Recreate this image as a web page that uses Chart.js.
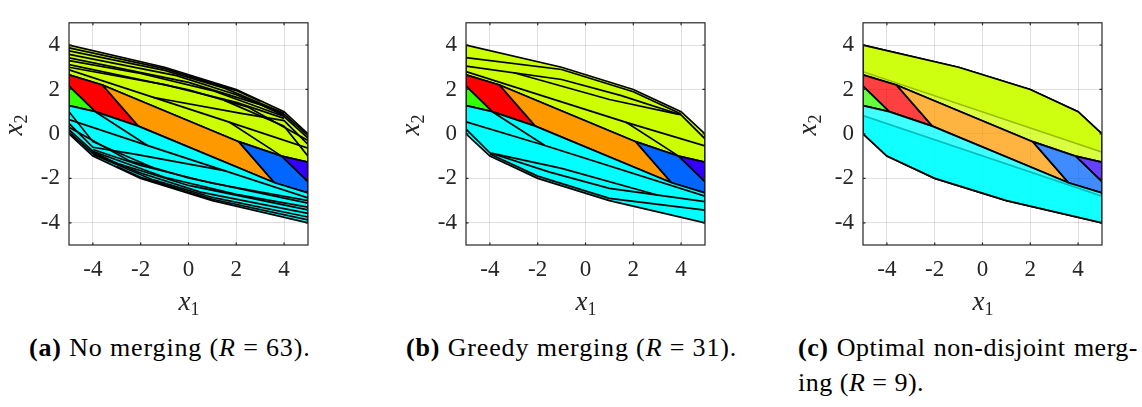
<!DOCTYPE html>
<html>
<head>
<meta charset="utf-8">
<script src="https://cdn.jsdelivr.net/npm/chart.js@4.4.1/dist/chart.umd.min.js"></script>
<style>
  html, body { margin: 0; padding: 0; background: #fff; }
  body { width: 1142px; height: 407px; position: relative; overflow: hidden; }
  canvas { position: absolute; top: 0; }
  .axlab { position: absolute; font-family: "Liberation Serif", "Times New Roman", serif; color: #262626; font-size: 27px; white-space: nowrap; line-height: 1; }
  .axlab i { font-style: italic; }
  .axlab sub { font-size: 18px; font-style: normal; vertical-align: -5px; }
  .cap { position: absolute; font-family: "Liberation Serif", "Times New Roman", serif; color: #000; font-size: 26px; letter-spacing: 0.85px; white-space: nowrap; line-height: 1; }
  .just { width: 340px; letter-spacing: 0.5px; text-align: justify; text-align-last: justify; white-space: normal; }
</style>
</head>
<body>
<canvas id="pa" width="330" height="290" style="left:0px"></canvas>
<canvas id="pb" width="330" height="290" style="left:397px"></canvas>
<canvas id="pc" width="330" height="290" style="left:794px"></canvas>

<div class="axlab" style="left:189px;top:288px;transform:translateX(-50%)"><i>x</i><sub>1</sub></div>
<div class="axlab" style="left:586px;top:288px;transform:translateX(-50%)"><i>x</i><sub>1</sub></div>
<div class="axlab" style="left:983px;top:288px;transform:translateX(-50%)"><i>x</i><sub>1</sub></div>
<div class="axlab" style="left:15px;top:125px;transform:translate(-50%,-50%) rotate(-90deg)"><i>x</i><sub>2</sub></div>
<div class="axlab" style="left:412px;top:125px;transform:translate(-50%,-50%) rotate(-90deg)"><i>x</i><sub>2</sub></div>
<div class="axlab" style="left:809px;top:125px;transform:translate(-50%,-50%) rotate(-90deg)"><i>x</i><sub>2</sub></div>

<div class="cap" style="left:29px;top:335px"><b>(a)</b> No merging (<i>R</i> = 63).</div>
<div class="cap" style="left:406px;top:335px"><b>(b)</b> Greedy merging (<i>R</i> = 31).</div>
<div class="cap just" style="left:798px;top:335px"><b>(c)</b> Optimal non-disjoint merg-</div>
<div class="cap" style="left:798px;top:370px;letter-spacing:0.5px">ing (<i>R</i> = 9).</div>

<script>
// ---- axes ----
const X_TICKS = [-4, -2, 0, 2, 4];
const Y_TICKS = [-4, -2, 0, 2, 4];
const TICK_LABELS = ['-4', '-2', '0', '2', '4'];

// ---- region colours (hsv palette) ----
const C_RED = [255, 0, 0];
const C_ORANGE = [255, 153, 0];
const C_YELLOW = [204, 255, 0];
const C_GREEN = [51, 255, 0];
const C_CYAN = [0, 255, 255];
const C_BLUE = [0, 102, 255];
const C_PURPLE = [51, 0, 255];

// ---- polyhedral regions, vertices as [x1, x2] ----
const yellowRegion = [[-5, 4], [-1, 3], [2, 2], [4, 1], [5, 0], [5, -1.27], [3.9, -1.0], [2.1, -0.35], [-3.6, 2.2], [-5, 2.66]];
const redRegion = [[-5, 2.66], [-3.6, 2.2], [-2.1, 0.35], [-3.9, 1.0], [-5, 2.15]];
const greenRegion = [[-5, 2.15], [-3.9, 1.0], [-5, 1.27]];
const orangeRegion = [[-3.6, 2.2], [2.1, -0.35], [3.6, -2.2], [-2.1, 0.35]];
const blueRegion = [[2.1, -0.35], [3.9, -1.0], [5, -2.15], [5, -2.66], [3.6, -2.2]];
const purpleRegion = [[3.9, -1.0], [5, -1.27], [5, -2.15]];
const cyanRegion = [[-5, 1.27], [-3.9, 1.0], [-2.1, 0.35], [3.6, -2.2], [5, -2.66], [5, -4], [1, -3], [-2, -2], [-4, -1], [-5, 0]];

// overlapping regions of the optimal merge
const yellowUpperC = [[-5, 4], [-1, 3], [2, 2], [4, 1], [5, 0], [5, -0.82], [-5, 2.8]];
const cyanLowerC = [[-5, 0.82], [5, -2.8], [5, -4], [1, -3], [-2, -2], [-4, -1], [-5, 0]];

// ---- facets between the unmerged regions (a) ----
const facetsA = [
  [[-5, 3.87], [-1, 2.94], [2, 1.95], [3, 1.47]],
  [[-5, 3.74], [-1, 2.86], [1.5, 2.06], [4, 0.93]],
  [[-5, 3.58], [-0.5, 2.62], [2, 1.76], [4, 0.88], [5, -0.08]],
  [[-5, 3.42], [0, 2.32], [3, 1.32], [4, 0.82]],
  [[-5, 3.3], [-2, 2.72], [1, 1.95], [4, 0.78], [5, -0.19]],
  [[-5, 3.12], [0, 1.98], [2.5, 1.2], [5, -0.3]],
  [[-5, 3.0], [-1, 2.22], [2, 1.42], [4, 0.7]],
  [[-5, 2.88], [1.7, 0.53], [3.9, -1.0]],
  [[1.7, 0.53], [5, -0.64]],
  [[-1.5, 1.65], [2.2, 0.92], [4, 0.6], [5, -0.47]],
  [[1.5, 1.51], [4, 0.35], [5, -1.0]],
  [[5, -3.87], [1, -2.94], [-2, -1.95], [-3, -1.47]],
  [[5, -3.74], [1, -2.86], [-1.5, -2.06], [-4, -0.93]],
  [[5, -3.58], [0.5, -2.62], [-2, -1.76], [-4, -0.88], [-5, 0.08]],
  [[5, -3.42], [0, -2.32], [-3, -1.32], [-4, -0.82]],
  [[5, -3.3], [2, -2.72], [-1, -1.95], [-4, -0.78], [-5, 0.19]],
  [[5, -3.12], [0, -1.98], [-2.5, -1.2], [-5, 0.3]],
  [[5, -3.0], [1, -2.22], [-2, -1.42], [-4, -0.7]],
  [[5, -2.88], [-1.7, -0.53], [-3.9, 1.0]],
  [[-1.7, -0.53], [-5, 0.64]],
  [[1.5, -1.65], [-2.2, -0.92], [-4, -0.6], [-5, 0.47]],
  [[-1.5, -1.51], [-4, -0.35], [-5, 1.0]]
];

// ---- facets left after greedy merging (b) ----
const facetsB = [
  [[-5, 3.43], [-1, 2.9], [2, 1.9], [4, 0.9]],
  [[-5, 3.05], [-1, 2.45], [1.5, 1.72], [4, 0.85], [5, -0.22]],
  [[-5, 2.8], [1.7, 0.52], [3.9, -1.0]],
  [[1.7, 0.52], [5, -0.54]],
  [[-3, 2.75], [1, 1.55], [3.9, 0.88]],
  [[5, -3.43], [1, -2.9], [-2, -1.9], [-4, -0.9]],
  [[5, -3.05], [1, -2.45], [-1.5, -1.72], [-4, -0.85], [-5, 0.22]],
  [[5, -2.8], [-1.7, -0.52], [-3.9, 1.0]],
  [[-1.7, -0.52], [-5, 0.54]],
  [[3, -2.75], [-1, -1.55], [-3.9, -0.88]]
];

const EDGE = '#000000';
const EDGE_W = 1.7;
const TICK_FONT = '"Liberation Serif", "Times New Roman", serif';

function rgba(c, a) { return 'rgba(' + c[0] + ',' + c[1] + ',' + c[2] + ',' + a + ')'; }
function toPoints(pts, close) {
  const list = pts.map(p => ({ x: p[0], y: p[1] }));
  if (close) list.push({ x: pts[0][0], y: pts[0][1] });
  return list;
}

function buildDatasets(regions, facets, alpha) {
  const sets = [];
  const n = regions.length + facets.length;
  regions.forEach((r, i) => {
    sets.push({
      data: toPoints(r[0], true),
      backgroundColor: rgba(r[1], alpha),
      borderColor: EDGE,
      borderWidth: EDGE_W,
      fill: 'shape',
      showLine: true,
      pointRadius: 0,
      tension: 0,
      order: n + 10 - i
    });
  });
  facets.forEach((f) => {
    sets.push({
      data: toPoints(f, false),
      borderColor: EDGE,
      borderWidth: EDGE_W,
      fill: false,
      showLine: true,
      pointRadius: 0,
      tension: 0,
      order: 0
    });
  });
  return sets;
}

// axes box with inward tick marks, drawn above the regions
const boxPlugin = {
  id: 'axesBox',
  afterDatasetsDraw(chart) {
    const { ctx, chartArea: a, scales } = chart;
    ctx.save();
    ctx.strokeStyle = '#262626';
    ctx.lineWidth = 1.2;
    ctx.strokeRect(a.left, a.top, a.right - a.left, a.bottom - a.top);
    ctx.beginPath();
    X_TICKS.forEach(v => {
      const px = scales.x.getPixelForValue(v);
      ctx.moveTo(px, a.bottom); ctx.lineTo(px, a.bottom - 2.5);
      ctx.moveTo(px, a.top); ctx.lineTo(px, a.top + 2.5);
    });
    Y_TICKS.forEach(v => {
      const py = scales.y.getPixelForValue(v);
      ctx.moveTo(a.left, py); ctx.lineTo(a.left + 2.5, py);
      ctx.moveTo(a.right, py); ctx.lineTo(a.right - 2.5, py);
    });
    ctx.stroke();
    ctx.restore();
  }
};

function axisOptions(ticks, fitSize, horizontal) {
  return {
    type: 'linear',
    min: -5,
    max: 5,
    afterBuildTicks: s => { s.ticks = ticks.map(v => ({ value: v })); },
    afterFit: s => { if (horizontal) s.height = fitSize; else s.width = fitSize; },
    ticks: {
      autoSkip: false,
      maxRotation: 0,
      color: '#262626',
      padding: horizontal ? 11 : 9,
      font: { family: TICK_FONT, size: 23 },
      callback: v => TICK_LABELS[ticks.indexOf(v)]
    },
    grid: { color: 'rgba(38,38,38,0.15)', lineWidth: 1, drawTicks: false },
    border: { display: false }
  };
}

function makeChart(id, datasets) {
  return new Chart(document.getElementById(id), {
    type: 'scatter',
    data: { datasets },
    options: {
      responsive: false,
      animation: false,
      events: [],
      layout: { padding: { left: 0, top: 6, right: 22, bottom: 0 } },
      plugins: { legend: { display: false }, tooltip: { enabled: false } },
      scales: {
        x: axisOptions(X_TICKS, 45, true),
        y: axisOptions(Y_TICKS, 69, false)
      }
    },
    plugins: [boxPlugin]
  });
}

const disjointRegions = [
  [yellowRegion, C_YELLOW],
  [redRegion, C_RED],
  [greenRegion, C_GREEN],
  [orangeRegion, C_ORANGE],
  [blueRegion, C_BLUE],
  [purpleRegion, C_PURPLE],
  [cyanRegion, C_CYAN]
];

const mergedRegions = [
  [yellowUpperC, C_YELLOW],
  [yellowRegion, C_YELLOW],
  [redRegion, C_RED],
  [greenRegion, C_GREEN],
  [orangeRegion, C_ORANGE],
  [blueRegion, C_BLUE],
  [purpleRegion, C_PURPLE],
  [cyanLowerC, C_CYAN],
  [cyanRegion, C_CYAN]
];

makeChart('pa', buildDatasets(disjointRegions, facetsA, 1));
makeChart('pb', buildDatasets(disjointRegions, facetsB, 1));
makeChart('pc', buildDatasets(mergedRegions, [], 0.75));
</script>
</body>
</html>
